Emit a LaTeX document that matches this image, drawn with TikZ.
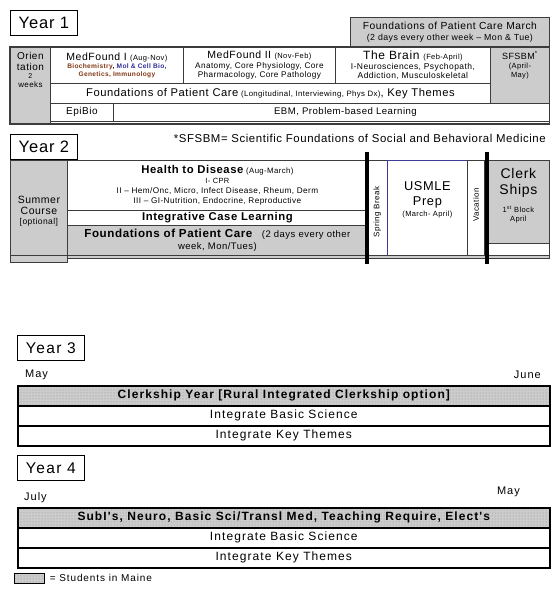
\documentclass[tikz,border=0pt]{standalone}
\usepackage{fontspec}
\setmainfont{Liberation Sans}[LetterSpace=5]
\newfontfamily\bandfont{Liberation Sans}[LetterSpace=9]
\usetikzlibrary{positioning, patterns}
\definecolor{cellgrey}{RGB}{204,204,204}
\definecolor{rulegrey}{RGB}{60,60,60}
\definecolor{dotgrey}{RGB}{140,140,140}
\definecolor{usmleblue}{RGB}{60,60,150}
\definecolor{biobrown}{RGB}{130,55,20}
\definecolor{bioblue}{RGB}{45,45,150}
\newcommand{\fsz}[1]{\fontsize{#1}{#1}\selectfont}

\begin{document}
\begin{tikzpicture}[x=1pt, y=1pt,
    cell/.style={draw=rulegrey, line width=0.8pt, anchor=north west, inner sep=0pt, align=center},
    greycell/.style={cell, fill=cellgrey},
    yearlbl/.style={draw=black, line width=0.8pt, anchor=north west, minimum width=67,
                    minimum height=25, inner sep=0pt, font=\fsz{16.5}},
    band/.style={draw=black, line width=1.6pt, anchor=north west, minimum width=532,
                 minimum height=20, inner sep=0pt, font=\bandfont\fsz{12}},
    maineband/.style={band, preaction={fill=cellgrey}, pattern=dots, pattern color=dotgrey,
                      font=\bandfont\bfseries\fsz{12}},
    lbl/.style={inner sep=0pt, align=center},
    month/.style={inner sep=0pt, font=\bandfont\fsz{11}},
    divider/.style={line width=3.5pt, black}
  ]
  \useasboundingbox (0,0) rectangle (556,-597);

  % year 1
  \node[yearlbl] (yr1) at (10,-10) {Year 1};
  \node[greycell, minimum width=199, minimum height=30, font=\fontsize{8.8}{11}\selectfont] (fpcmarch) at (350,-17)
       {{\fsz{10.3}Foundations of Patient Care March}\\(2 days every other week – Mon \& Tue)};
  \node[greycell, minimum width=40, minimum height=76] (orient) at (10,-47) {};
  \node[lbl, font=\fontsize{10}{11}\selectfont, below=5pt of orient.north] (orienttxt)
       {Orien\\tation\\[-3pt]{\fsz{7}2}\\[-2pt]{\fsz{8}weeks}};
  \node[cell, minimum width=133, minimum height=36, font=\fontsize{6.6}{8}\selectfont\bfseries] (mf1) at (50,-47)
       {{\mdseries\fsz{10.5}MedFound I {\fsz{7.5}(Aug-Nov)}}\\
        {\color{biobrown}Biochemistry}, {\color{bioblue}Mol \& Cell Bio,}\\
        {\color{biobrown}Genetics, Immunology}};
  \node[cell, minimum width=152, minimum height=36, font=\fontsize{8.2}{9.5}\selectfont] (mf2) at (183,-47)
       {{\fsz{10.5}MedFound II {\fsz{7.5}(Nov-Feb)}}\\Anatomy, Core Physiology, Core\\Pharmacology, Core Pathology};
  \node[cell, minimum width=155, minimum height=36, font=\fontsize{8.5}{9.5}\selectfont] (brain) at (335,-47)
       {{\fsz{12}The Brain {\fsz{7.5}(Feb-April)}}\\I-Neurosciences, Psychopath,\\Addiction, Musculoskeletal};
  \node[greycell, minimum width=59, minimum height=56] (sfsbm) at (490,-47) {};
  \node[lbl, font=\fontsize{7.5}{9}\selectfont, below=4pt of sfsbm.north] (sfsbmtxt)
       {{\fsz{9}SFSBM\textsuperscript{*}}\\(April-\\May)};
  \node[cell, minimum width=440, minimum height=20, font=\fsz{7.8}] (fpc1) at (50,-83)
       {{\fsz{11.2}Foundations of Patient Care} (Longitudinal, Interviewing, Phys Dx){\fsz{11.2}, Key Themes}};
  \node[cell, minimum width=63, minimum height=18, font=\fsz{10}] (epibio) at (50,-103) {EpiBio};
  \node[cell, minimum width=436, minimum height=18, font=\fsz{9.6}] (ebm) at (113,-103)
       {\hspace*{28pt}EBM, Problem-based Learning};
  \draw[draw=rulegrey, line width=0.8pt, fill=cellgrey] (orient.south west) rectangle ([yshift=-3pt]ebm.south east);
  \draw[draw=rulegrey, line width=1.2pt] (orient.north west) rectangle ([yshift=-3pt]ebm.south east);

  \node[anchor=east, inner sep=0pt, font=\fsz{11.4}] (sfsbmnote) at (546,-138)
       {*SFSBM= Scientific Foundations of Social and Behavioral Medicine};

  % year 2
  \node[yearlbl] (yr2) at (10,-134) {Year 2};
  \node[greycell, minimum width=57, minimum height=102, font=\fontsize{10.5}{10.5}\selectfont] (summer) at (10,-160)
       {Summer\\Course\\{\fsz{8.5}[optional]}};
  \node[cell, minimum width=300, minimum height=50, font=\fontsize{8.2}{10}\selectfont] (h2d) at (67,-160)
       {{\bfseries\fsz{11.3}Health to Disease} {\fsz{7.8}(Aug-March)}\\{\fsz{7.5}I- CPR}\\
        II – Hem/Onc, Micro, Infect Disease, Rheum, Derm\\III – GI-Nutrition, Endocrine, Reproductive};
  \node[cell, minimum width=300, minimum height=15, font=\bfseries\fsz{11.3}] (icl) at (67,-210) {Integrative Case Learning};
  \node[greycell, minimum width=300, minimum height=30, font=\fontsize{9.5}{12}\selectfont] (fpc2) at (67,-225)
       {{\bfseries\fsz{11.6}Foundations of Patient Care}\quad (2 days every other\\week, Mon/Tues)};
  \node[cell, minimum width=20, minimum height=95] (spring) at (367,-160) {};
  \node[lbl, rotate=90, font=\fsz{8}] (springtxt) at ([yshift=-4pt]spring.center) {Spring Break};
  \node[cell, draw=usmleblue, minimum width=80, minimum height=95] (usmle) at (387,-160) {};
  \node[lbl, font=\fontsize{7.5}{15}\selectfont, below=21pt of usmle.north] (usmletxt)
       {{\fsz{12.8}USMLE}\\{\fsz{12.8}Prep}\\[-4pt](March- April)};
  \node[cell, minimum width=17, minimum height=95] (vacation) at (467,-160) {};
  \node[lbl, rotate=90, font=\fsz{8}] (vacationtxt) at ([yshift=3pt]vacation.center) {Vacation};
  \node[greycell, minimum width=62, minimum height=83] (clerk) at (487,-160) {};
  \node[cell, minimum width=62, minimum height=12] (clerkfoot) at (487,-243) {};
  \node[lbl, font=\fontsize{7.5}{9}\selectfont, below=8pt of clerk.north] (clerktxt)
       {{\fsz{14}Clerk}\\[5pt]{\fsz{14}Ships}\\[8pt]1\textsuperscript{st} Block\\April};
  \draw[draw=rulegrey, line width=0.8pt, fill=cellgrey] (fpc2.south west) rectangle ([yshift=-3pt]clerkfoot.south east);
  \draw[draw=rulegrey, line width=0.8pt] (summer.west |- fpc2.south) -- (fpc2.south west);
  \draw[divider] ([yshift=8pt]spring.north west) -- ([yshift=-8pt]spring.south west);
  \draw[divider] ([yshift=8pt]clerk.north west) -- ([yshift=-8pt]clerkfoot.south west);

  % year 3
  \node[yearlbl, font=\bandfont\fsz{15.5}] (yr3) at (17,-335) {Year 3};
  \node[month, anchor=west] (may3) at (25,-375) {May};
  \node[month, anchor=east] (june3) at (541,-375) {June};
  \node[maineband] (clerkyr) at (17,-385) {Clerkship Year [Rural Integrated Clerkship option]};
  \node[band] (ibs3) at (17,-405) {Integrate Basic Science};
  \node[band] (ikt3) at (17,-425) {Integrate Key Themes};

  % year 4
  \node[yearlbl, font=\bandfont\fsz{15.5}] (yr4) at (17,-455) {Year 4};
  \node[month, anchor=west] (july4) at (24,-498) {July};
  \node[month, anchor=east] (may4) at (520,-492) {May};
  \node[maineband] (subis) at (17,-507) {SubI's, Neuro, Basic Sci/Transl Med, Teaching Require, Elect's};
  \node[band] (ibs4) at (17,-527) {Integrate Basic Science};
  \node[band] (ikt4) at (17,-547) {Integrate Key Themes};

  \node[maineband, line width=0.6pt, minimum width=30, minimum height=10] (legbox) at (14,-573) {};
  \node[right=5pt of legbox, inner sep=0pt, font=\bandfont\fsz{10}] (legtxt) {= Students in Maine};
\end{tikzpicture}
\end{document}
